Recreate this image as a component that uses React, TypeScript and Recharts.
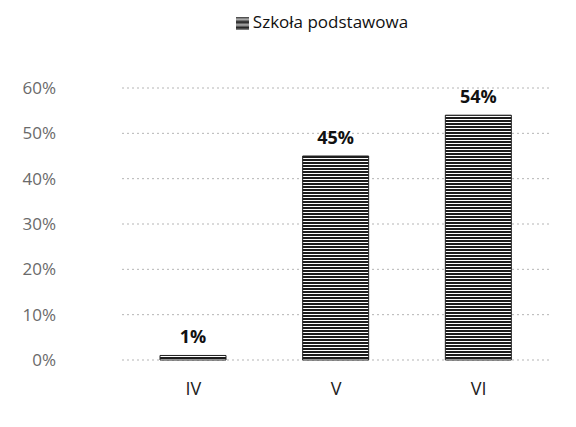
import { BarChart, Bar, XAxis, YAxis, CartesianGrid, Legend, LabelList } from "recharts";

const grades = ["IV", "V", "VI"];
const shares = [0.01, 0.45, 0.54];
const yTicks = [0, 0.1, 0.2, 0.3, 0.4, 0.5, 0.6];

const data = grades.map((grade, i) => ({ grade, share: shares[i] }));

const pct = (v: number) => `${Math.round(v * 100)}%`;

const YTick = (props: any) => {
  const { y, payload } = props;
  return (
    <text x={56} y={y} dy={6} textAnchor="end" fontSize={17} fill="#6a6a6a">
      {pct(payload.value)}
    </text>
  );
};

export default function App() {
  return (
    <div style={{ position: "absolute", left: 0, top: 0, background: "#fff", fontFamily: "'Open Sans', sans-serif" }}>
      <BarChart
        width={576}
        height={427}
        data={data}
        margin={{ top: 10, right: 26, left: 0, bottom: 37 }}
        barCategoryGap={76}
      >
        <defs>
          <pattern id="hatch" width="6" height="3" patternUnits="userSpaceOnUse">
            <rect width="6" height="3" fill="#fff" />
            <rect width="6" height="2" fill="#1c1c1c" />
          </pattern>
        </defs>
        <CartesianGrid vertical={false} stroke="#b5b5b5" strokeDasharray="2 3" />
        <Legend
          verticalAlign="top"
          align="center"
          height={78}
          iconType="square"
          iconSize={13}
          wrapperStyle={{ paddingLeft: 52, fontSize: 17, color: "#111" }}
          formatter={(value) => <span style={{ color: "#111" }}>{value}</span>}
        />
        <XAxis
          dataKey="grade"
          axisLine={false}
          tickLine={false}
          tickMargin={16}
          height={30}
          tick={{ fontSize: 18, fill: "#222" }}
        />
        <YAxis
          domain={[0, 0.6]}
          ticks={yTicks}
          width={122}
          axisLine={false}
          tickLine={false}
          tick={<YTick />}
        />
        <Bar
          dataKey="share"
          name="Szkoła podstawowa"
          fill="url(#hatch)"
          stroke="#222"
          strokeWidth={1}
          barSize={66}
          isAnimationActive={false}
        >
          <LabelList
            dataKey="share"
            position="top"
            offset={12}
            formatter={(v: any) => pct(Number(v))}
            fontSize={18}
            fontWeight="bold"
            fill="#111"
          />
        </Bar>
      </BarChart>
    </div>
  );
}
